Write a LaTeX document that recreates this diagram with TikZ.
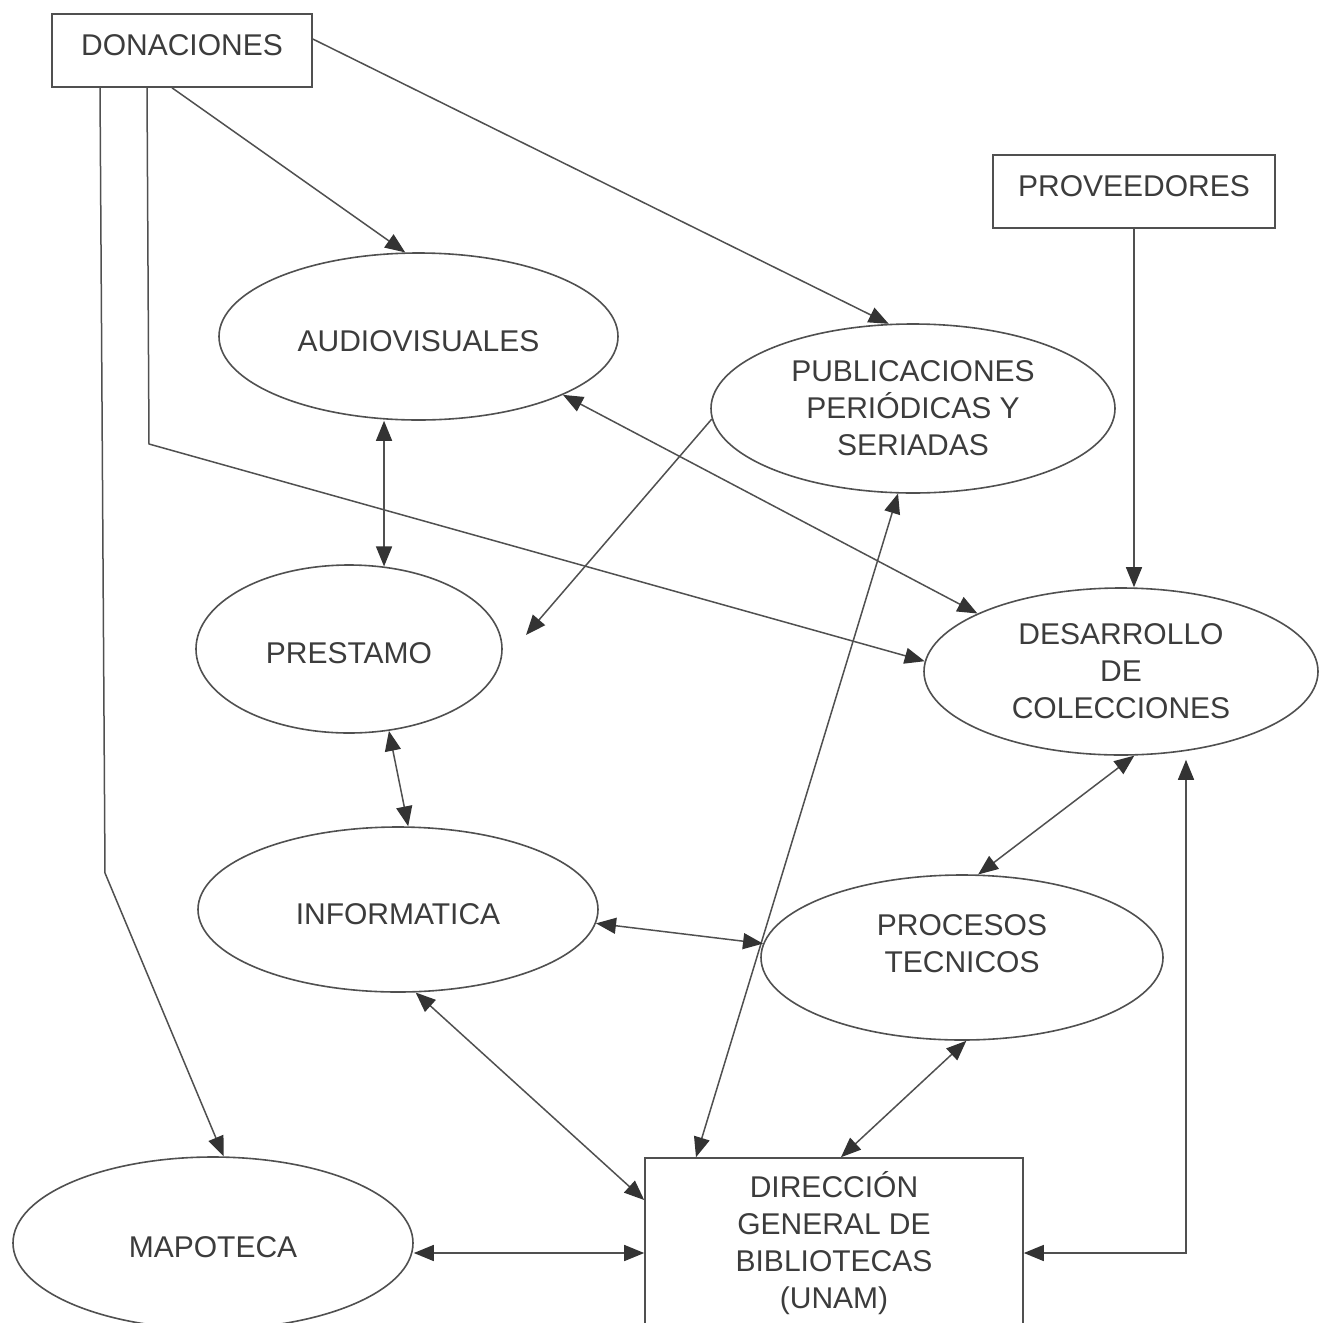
\documentclass[tikz,border=0pt]{standalone}
\usepackage{fontspec}
\setmainfont{Liberation Sans}
\usetikzlibrary{arrows.meta,shapes.geometric,calc}
\definecolor{ink}{HTML}{3C3C3C}
\definecolor{edge}{HTML}{505050}
\definecolor{tipc}{HTML}{333333}
\begin{document}
\begin{tikzpicture}[x=1pt,y=-1pt,
  every node/.style={font=\fontsize{30}{37}\selectfont, text=ink},
  unit/.style={ellipse, draw=edge, line width=1.6pt, inner sep=0pt, align=center},
  boxnode/.style={rectangle, draw=edge, line width=1.6pt, inner sep=0pt, align=center},
  oneline/.style={text height=29.5pt, text depth=0pt},
  link/.style={draw=edge, line width=1.5pt},
  >={Triangle[length=20pt,width=16pt,color=tipc]}]

% page
\fill[white] (0,0) rectangle (1318,1323);
\useasboundingbox (0,0) rectangle (1318,1323);

% sources
\node[boxnode, minimum width=260pt, minimum height=73pt,
      text height=21.5pt, text depth=12pt] (don) at (182,50.5) {DONACIONES};
\node[boxnode, minimum width=282pt, minimum height=73pt,
      text height=21.5pt, text depth=11pt] (prov) at (1134,191.5) {PROVEEDORES};

% departments
\node[unit, oneline, minimum width=399pt, minimum height=167pt] (aud) at (418.5,336.5) {AUDIOVISUALES};
\node[unit, minimum width=404pt, minimum height=169pt] (pub) at (913,408.5) {PUBLICACIONES\\PERIÓDICAS Y\\SERIADAS};
\node[unit, minimum width=394pt, minimum height=167pt] (des) at (1121,671.5) {DESARROLLO\\DE\\COLECCIONES};
\node[unit, oneline, minimum width=306pt, minimum height=168pt] (pre) at (349,649) {PRESTAMO};
\node[unit, oneline, minimum width=400pt, minimum height=165pt] (inf) at (398,909.5) {INFORMATICA};
\node[unit, minimum width=402pt, minimum height=165pt] (proc) at (962,957.5) {PROCESOS\\TECNICOS\\[-9pt]\mbox{}};
\node[unit, oneline, minimum width=400pt, minimum height=172pt] (map) at (213,1243) {MAPOTECA};
\node[boxnode, minimum width=378pt, minimum height=171pt] (dgb) at (834,1243.5) {DIRECCIÓN\\GENERAL DE\\BIBLIOTECAS\\(UNAM)};

% bends and free ends
\coordinate (bendA) at (105,873);
\coordinate (bendB) at (149,444);
\coordinate (pubEnd) at (526,635);

% flows from the sources
\draw[link,->] ([xshift=-82pt]don.south) -- (bendA) -- (map.83.2);
\draw[link,->] ([xshift=-35pt]don.south) -- (bendB) -- (des.177.2);
\draw[link,->] ([xshift=-10pt]don.south) -- (aud.99.9);
\draw[link,->] ([yshift=11.5pt]don.east) -- (pub.106.9);
\draw[link,->] (prov.south) -- (prov.south |- des.north);

% exchanges between departments
\draw[link,<->] (aud.338.9) -- (des.158.5);
\draw[link,<->] (pre.67.4) -- (pre.67.4 |- aud.south);
\draw[link,->] (pub.183.3) -- (pubEnd);
\draw[link,<->] (pub.260.1) -- ([xshift=-138pt]dgb.north);
\draw[link,<->] (pre.296) -- (inf.83.25);
\draw[link,<->] (inf.356.2) -- (proc.176);
\draw[link,<->] (inf.282.5) -- ([yshift=43.5pt]dgb.west);
\draw[link,<->] (des.279.3) -- (proc.79.7);
\draw[link,<->] (proc.273.35) -- ([xshift=7pt]dgb.north);
\draw[link,<->] ([yshift=-9.5pt]dgb.east) -| ([xshift=65pt,yshift=-4pt]des.south);
\draw[link,<->] ([yshift=-9.5pt]dgb.west) -- ([yshift=-9.5pt]dgb.west -| map.east);
\end{tikzpicture}
\end{document}
